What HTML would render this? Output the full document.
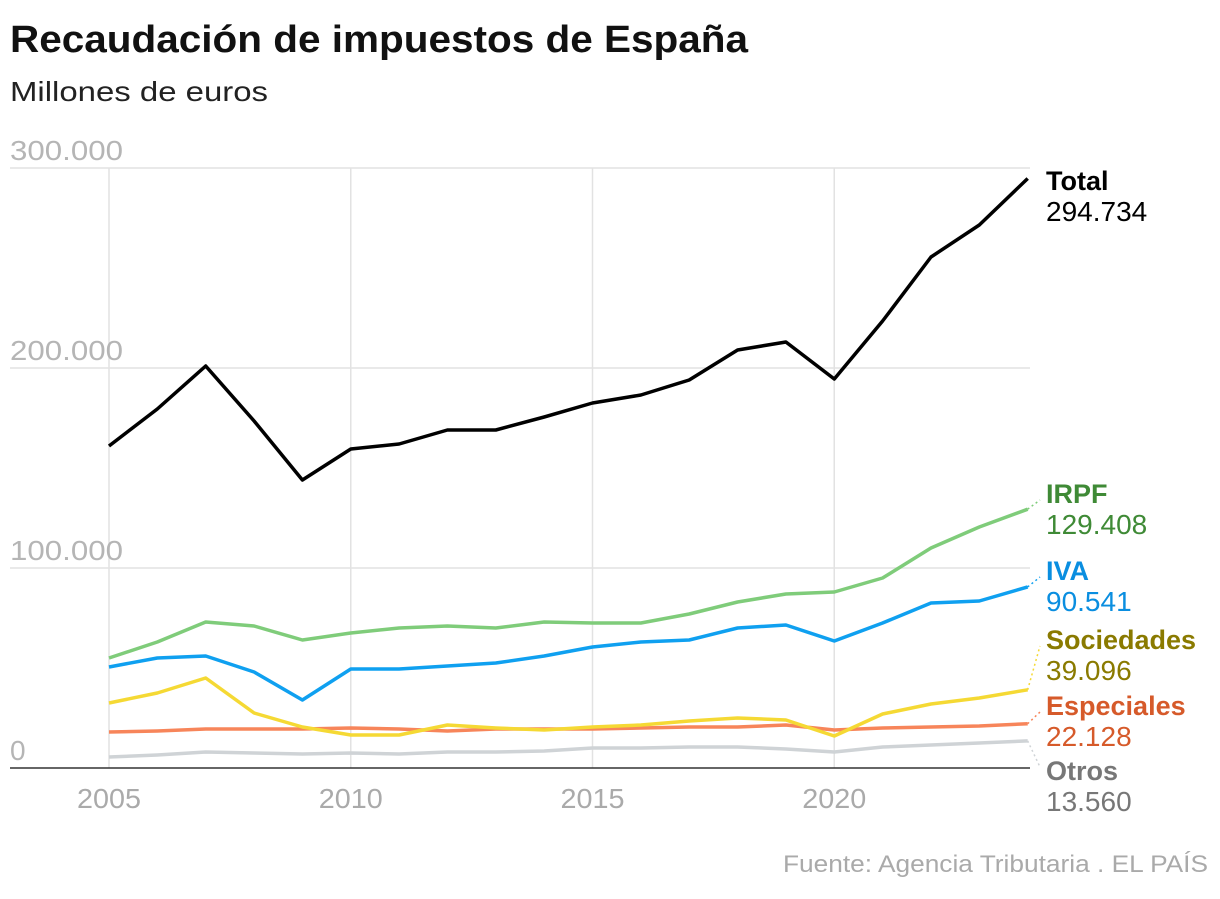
<!DOCTYPE html>
<html><head><meta charset="utf-8"><style>
body{margin:0;background:#fff;width:1220px;height:894px;overflow:hidden;font-family:"Liberation Sans",sans-serif}
svg text{font-family:"Liberation Sans",sans-serif}
</style></head><body>
<svg id="chart" width="1220" height="894">
<text x="10" y="52" font-size="38" font-weight="bold" fill="#111" textLength="738" lengthAdjust="spacingAndGlyphs">Recaudación de impuestos de España</text>
<text x="10" y="101" font-size="28" fill="#222" textLength="258" lengthAdjust="spacingAndGlyphs">Millones de euros</text>
<text x="1208" y="872" font-size="24" fill="#aaa" text-anchor="end" textLength="425" lengthAdjust="spacingAndGlyphs">Fuente: Agencia Tributaria . EL PAÍS</text>
<g id="grid"></g><g id="lines"></g><g id="labels"></g>
</svg>
<script>
const years=[2005,2006,2007,2008,2009,2010,2011,2012,2013,2014,2015,2016,2017,2018,2019,2020,2021,2022,2023,2024];
const yTicks=[0,100000,200000,300000];
const yTickLabels=["0","100.000","200.000","300.000"];
const xTicks=[2005,2010,2015,2020];
const total=[161000,179500,201000,173500,144000,159500,162000,169000,169000,175500,182500,186500,194000,209000,213000,194500,223500,255500,271500,294734];
const irpf=[55000,63000,73000,71000,64000,67500,70000,71000,70000,73000,72500,72500,77000,83000,87000,88000,95000,110000,120500,129408];
const iva=[50500,55000,56000,48000,34000,49500,49500,51000,52500,56000,60500,63000,64000,70000,71500,63500,72500,82500,83500,90541];
const sociedades=[32500,37500,45000,27500,20500,16500,16500,21500,20000,19000,20500,21500,23500,25000,24000,16000,27000,32000,35000,39096];
const especiales=[18000,18500,19500,19500,19500,20000,19500,18500,19500,19500,19500,20000,20500,20500,21500,19000,20000,20500,21000,22128];
const otros=[5500,6500,8000,7500,7000,7500,7000,8000,8000,8500,10000,10000,10500,10500,9500,8000,10500,11500,12500,13560];
const seriesNames=["Total","IRPF","IVA","Sociedades","Especiales","Otros"];
const seriesVals=[total,irpf,iva,sociedades,especiales,otros];
const lineColors=["#000","#7fcc7a","#0fa0f0","#f5d934","#f7855a","#cfd3d6"];
const textColors=["#000","#3f8a36","#0a8ee0","#8a7a00","#d65a2a","#777"];
const labelY=[181,494,571,640,706,771];
const X=y=>109+(y-2005)*48.35;
const Y=v=>768-v*0.002;
const NS="http://www.w3.org/2000/svg";
function mk(t,a,p){const e=document.createElementNS(NS,t);for(const k in a)e.setAttribute(k,a[k]);p.appendChild(e);return e;}
const grid=document.getElementById('grid');
xTicks.forEach(t=>{
 const l=mk('line',{x1:X(t),x2:X(t),y1:168,y2:768,stroke:'#e2e2e2','stroke-width':1.5},grid);
 
 
 const tx=mk('text',{x:X(t),y:808,'font-size':28,fill:'#aaa','text-anchor':'middle',textLength:64,lengthAdjust:'spacingAndGlyphs'},grid);tx.textContent=t;
 
 
});
yTicks.forEach((v,i)=>{
 const l=mk('line',{x1:10,x2:1030,y1:Y(v),y2:Y(v),stroke:v===0?'#333':'#e2e2e2','stroke-width':1.5},grid);
 
 
 const attrs={x:10,y:Y(v)-8,'font-size':28,fill:'#b5b5b5'};
 if(v>0){attrs.textLength=113;attrs.lengthAdjust='spacingAndGlyphs';}
 const tx=mk('text',attrs,grid);tx.textContent=yTickLabels[i];
 
 
});
const lines=document.getElementById('lines'),labels=document.getElementById('labels');
for(let s=seriesVals.length-1;s>=0;s--){
 const vals=seriesVals[s];
 const d=vals.map((v,i)=>(i?'L':'M')+X(years[i]).toFixed(1)+','+Y(v).toFixed(1)).join('');
 const p=mk('path',{d:d,fill:'none',stroke:lineColors[s],'stroke-width':3.5,'stroke-linejoin':'round'},lines);
 
 
 const ex=X(years[years.length-1]),ey=Y(vals[vals.length-1]);
 if(s>0){
  const ld=mk('line',{x1:ex,y1:ey,x2:1040,y2:labelY[s]-(s===5?4:-6),stroke:lineColors[s],'stroke-width':1.5,'stroke-dasharray':'2,3'},labels);
  
  
 }
 const t1=mk('text',{x:1046,y:labelY[s]+9,'font-size':27,'font-weight':'bold',fill:textColors[s]},labels);t1.textContent=seriesNames[s];
 
 
 const t2=mk('text',{x:1046,y:labelY[s]+40,'font-size':28,fill:textColors[s]},labels);t2.textContent=vals[vals.length-1].toLocaleString('de-DE');
 
 
}
</script>
</body></html>
